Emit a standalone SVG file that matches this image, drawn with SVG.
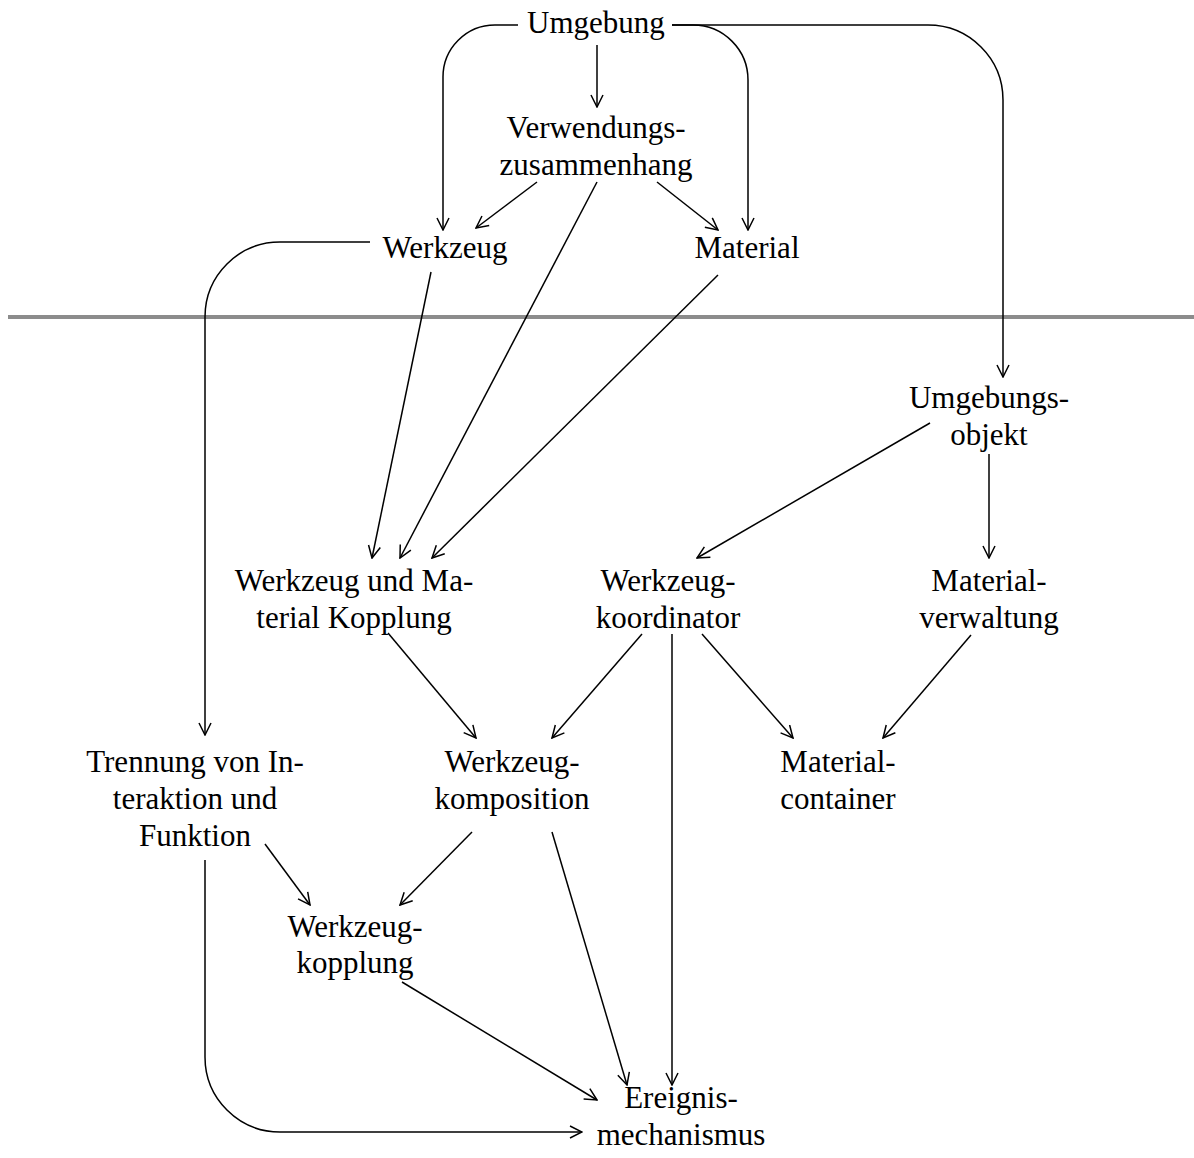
<svg xmlns="http://www.w3.org/2000/svg" width="1194" height="1158" viewBox="0 0 1194 1158">
<style>
text{font-family:"Liberation Serif","Times New Roman",serif;font-size:31px;fill:#000;text-anchor:middle}
.c{fill:none;stroke:#000;stroke-width:1.5}
</style>
<defs>
<marker id="a" viewBox="0 0 14 14" refX="13" refY="7" markerWidth="14" markerHeight="14" markerUnits="userSpaceOnUse" orient="auto">
<path d="M1,1 L13,7 L1,13" fill="none" stroke="#000" stroke-width="1.5"/>
</marker>
</defs>
<rect width="1194" height="1158" fill="#fff"/>
<line x1="8" y1="317" x2="1194" y2="317" stroke="#8c8c8c" stroke-width="4"/>
<g id="connectors">
<path class="c" marker-end="url(#a)" d="M518,25 H495 A52,52 0 0 0 443,77 V230"/>
<path class="c" marker-end="url(#a)" d="M672,25 H693 A55,55 0 0 1 748,80 V230"/>
<path class="c" marker-end="url(#a)" d="M672,25 H928 A75,75 0 0 1 1003,100 V377"/>
<path class="c" marker-end="url(#a)" d="M597,45 V107"/>
<path class="c" marker-end="url(#a)" d="M537,182 L476,228"/>
<path class="c" marker-end="url(#a)" d="M657,182 L718,230"/>
<path class="c" marker-end="url(#a)" d="M597,182 L400,558"/>
<path class="c" marker-end="url(#a)" d="M431,272 L372,558"/>
<path class="c" marker-end="url(#a)" d="M718,275 L432,558"/>
<path class="c" marker-end="url(#a)" d="M370,242 H280 A75,75 0 0 0 205,317 V735"/>
<path class="c" marker-end="url(#a)" d="M930,423 L697,558"/>
<path class="c" marker-end="url(#a)" d="M989,454 V558"/>
<path class="c" marker-end="url(#a)" d="M388,633 L476,738"/>
<path class="c" marker-end="url(#a)" d="M642,634 L552,738"/>
<path class="c" marker-end="url(#a)" d="M702,634 L793,738"/>
<path class="c" marker-end="url(#a)" d="M971,635 L883,738"/>
<path class="c" marker-end="url(#a)" d="M672,634 V1085"/>
<path class="c" marker-end="url(#a)" d="M472,832 L400,905"/>
<path class="c" marker-end="url(#a)" d="M265,844 L310,905"/>
<path class="c" marker-end="url(#a)" d="M552,832 L627,1085"/>
<path class="c" marker-end="url(#a)" d="M402,982 L597,1100"/>
<path class="c" marker-end="url(#a)" d="M205,860 V1057 A75,75 0 0 0 280,1132 H582"/>
</g>
<g id="umgebung"><text x="596" y="33">Umgebung</text></g>
<g id="verwendungszusammenhang"><text x="596" y="138">Verwendungs-</text><text x="596" y="175">zusammenhang</text></g>
<g id="werkzeug"><text x="445" y="258">Werkzeug</text></g>
<g id="material"><text x="747" y="258">Material</text></g>
<g id="umgebungsobjekt"><text x="989" y="408">Umgebungs-</text><text x="989" y="445">objekt</text></g>
<g id="wumkopplung"><text x="354" y="591">Werkzeug und Ma-</text><text x="354" y="628">terial Kopplung</text></g>
<g id="werkzeugkoordinator"><text x="668" y="591">Werkzeug-</text><text x="668" y="628">koordinator</text></g>
<g id="materialverwaltung"><text x="989" y="591">Material-</text><text x="989" y="628">verwaltung</text></g>
<g id="trennung"><text x="195" y="772">Trennung von In-</text><text x="195" y="809">teraktion und</text><text x="195" y="846">Funktion</text></g>
<g id="werkzeugkomposition"><text x="512" y="772">Werkzeug-</text><text x="512" y="809">komposition</text></g>
<g id="materialcontainer"><text x="838" y="772">Material-</text><text x="838" y="809">container</text></g>
<g id="werkzeugkopplung"><text x="355" y="937">Werkzeug-</text><text x="355" y="973">kopplung</text></g>
<g id="ereignismechanismus"><text x="681" y="1108">Ereignis-</text><text x="681" y="1145">mechanismus</text></g>
</svg>
